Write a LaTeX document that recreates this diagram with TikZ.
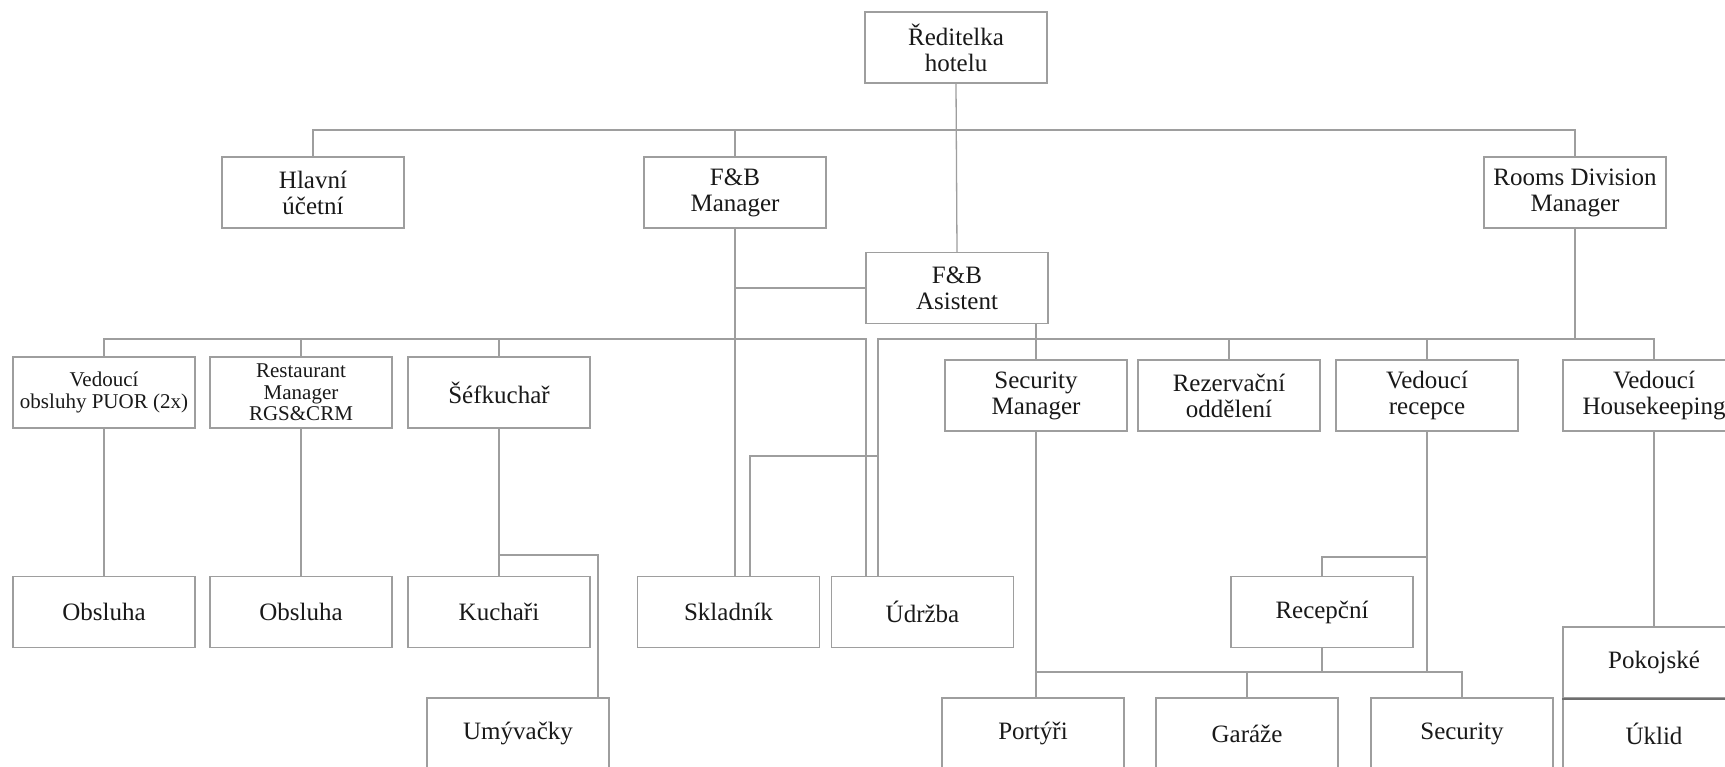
\documentclass[tikz,border=0pt]{standalone}
\usepackage{fontspec}
\setmainfont{Liberation Serif}
\definecolor{ln}{RGB}{158,158,158}
\definecolor{lnd}{RGB}{110,110,110}
\definecolor{tx}{RGB}{25,25,25}
\begin{document}
\begin{tikzpicture}[x=1pt,y=-1pt,
  box/.style={draw=ln, line width=1.3pt, fill=white, minimum width=182pt, minimum height=71pt, inner sep=0pt, align=center, text=tx, font=\fontsize{25}{26}\selectfont},
  sbox/.style={box, font=\fontsize{21}{21.5}\selectfont},
  conn/.style={draw=ln, line width=1.3pt}]
\useasboundingbox[fill=white] (0,0) rectangle (1725,767);
% row 1
\node[box] (dir) at (956,47.5) {Ředitelka\\hotelu};
% row 2
\node[box] (hla) at (313,192.5) {Hlavní\\účetní};
\node[box] (fbm) at (735,192.5) {F\&B\\Manager};
\node[box] (rdm) at (1575,192.5) {Rooms Division\\Manager};
\node[box] (asi) at (957,288) {F\&B\\Asistent};
% row 3
\node[sbox] (vob) at (104,392.5) {Vedoucí\\obsluhy PUOR (2x)};
\node[sbox] (rmg) at (301,392.5) {Restaurant\\Manager\\RGS\&CRM};
\node[box] (sef) at (499,392.5) {Šéfkuchař};
\node[box] (sm) at (1036,395.5) {Security\\Manager};
\node[box] (rez) at (1229,395.5) {Rezervační\\oddělení};
\node[box] (vrc) at (1427,395.5) {Vedoucí\\recepce};
\node[box] (vhk) at (1654,395.5) {Vedoucí\\Housekeeping};
% row 4
\node[box] (ob1) at (104,612) {Obsluha};
\node[box] (ob2) at (301,612) {Obsluha};
\node[box] (kuc) at (499,612) {Kuchaři};
\node[box] (skl) at (728.5,612) {Skladník};
\node[box] (udr) at (922.5,612) {Údržba};
\node[box] (rcp) at (1322,612) {Recepční};
\node[box] (pok) at (1654,662.5) {Pokojské};
% row 5
\node[box] (umy) at (518,733.5) {Umývačky};
\node[box] (por) at (1033,733.5) {Portýři};
\node[box] (gar) at (1247,733.5) {Garáže};
\node[box] (sec) at (1462,733.5) {Security};
\node[box] (ukl) at (1654,733.5) {Úklid};
\draw[line width=1.8pt, draw=lnd] (pok.south west) -- (pok.south east);
% helper coordinates
\coordinate (tb) at (0,130);
\coordinate (lb) at (0,339);
\coordinate (brk) at (0,456);
\coordinate (sb) at (0,555);
\coordinate (rb) at (0,557);
\coordinate (bb) at (0,672);
\coordinate (ud1) at ([xshift=-56.5pt]udr.north);
\coordinate (ud2) at ([xshift=-44.5pt]udr.north);
\coordinate (sk1) at ([xshift=21.5pt]skl.north);
\coordinate (um1) at ([xshift=80pt]umy.north);
% top level
\draw[conn] (dir.south) -- (asi.north);
\draw[conn] (hla.north) -- (hla.north |- tb) -- (rdm.north |- tb) -- (rdm.north);
\draw[conn] (fbm.north) -- (fbm.north |- tb);
\draw[conn] (fbm.south) -- (fbm.south |- skl.north);
\draw[conn] (fbm.south |- asi.west) -- (asi.west);
% left bus
\draw[conn] (vob.north) -- (vob.north |- lb) -- (ud1 |- lb) -- (ud1);
\draw[conn] (rmg.north) -- (rmg.north |- lb);
\draw[conn] (sef.north) -- (sef.north |- lb);
% right bus
\draw[conn] (ud2) -- (ud2 |- lb) -- (vhk.north |- lb) -- (vhk.north);
\draw[conn] (asi.south -| sm.north) -- (sm.north);
\draw[conn] (rez.north) -- (rez.north |- lb);
\draw[conn] (vrc.north) -- (vrc.north |- lb);
\draw[conn] (rdm.south) -- (rdm.south |- lb);
\draw[conn] (ud2 |- brk) -- (sk1 |- brk) -- (sk1);
% lower
\draw[conn] (vob.south) -- (ob1.north);
\draw[conn] (rmg.south) -- (ob2.north);
\draw[conn] (sef.south) -- (kuc.north);
\draw[conn] (sef.south |- sb) -- (um1 |- sb) -- (um1);
\draw[conn] (sm.south) -- (sm.south |- por.north);
\draw[conn] (sm.south |- bb) -- (sec.north |- bb) -- (sec.north);
\draw[conn] (gar.north) -- (gar.north |- bb);
\draw[conn] (rcp.south) -- (rcp.south |- bb);
\draw[conn] (vrc.south) -- (vrc.south |- bb);
\draw[conn] (vrc.south |- rb) -- (rcp.north |- rb) -- (rcp.north);
\draw[conn] (vhk.south) -- (pok.north);
\end{tikzpicture}
\end{document}
